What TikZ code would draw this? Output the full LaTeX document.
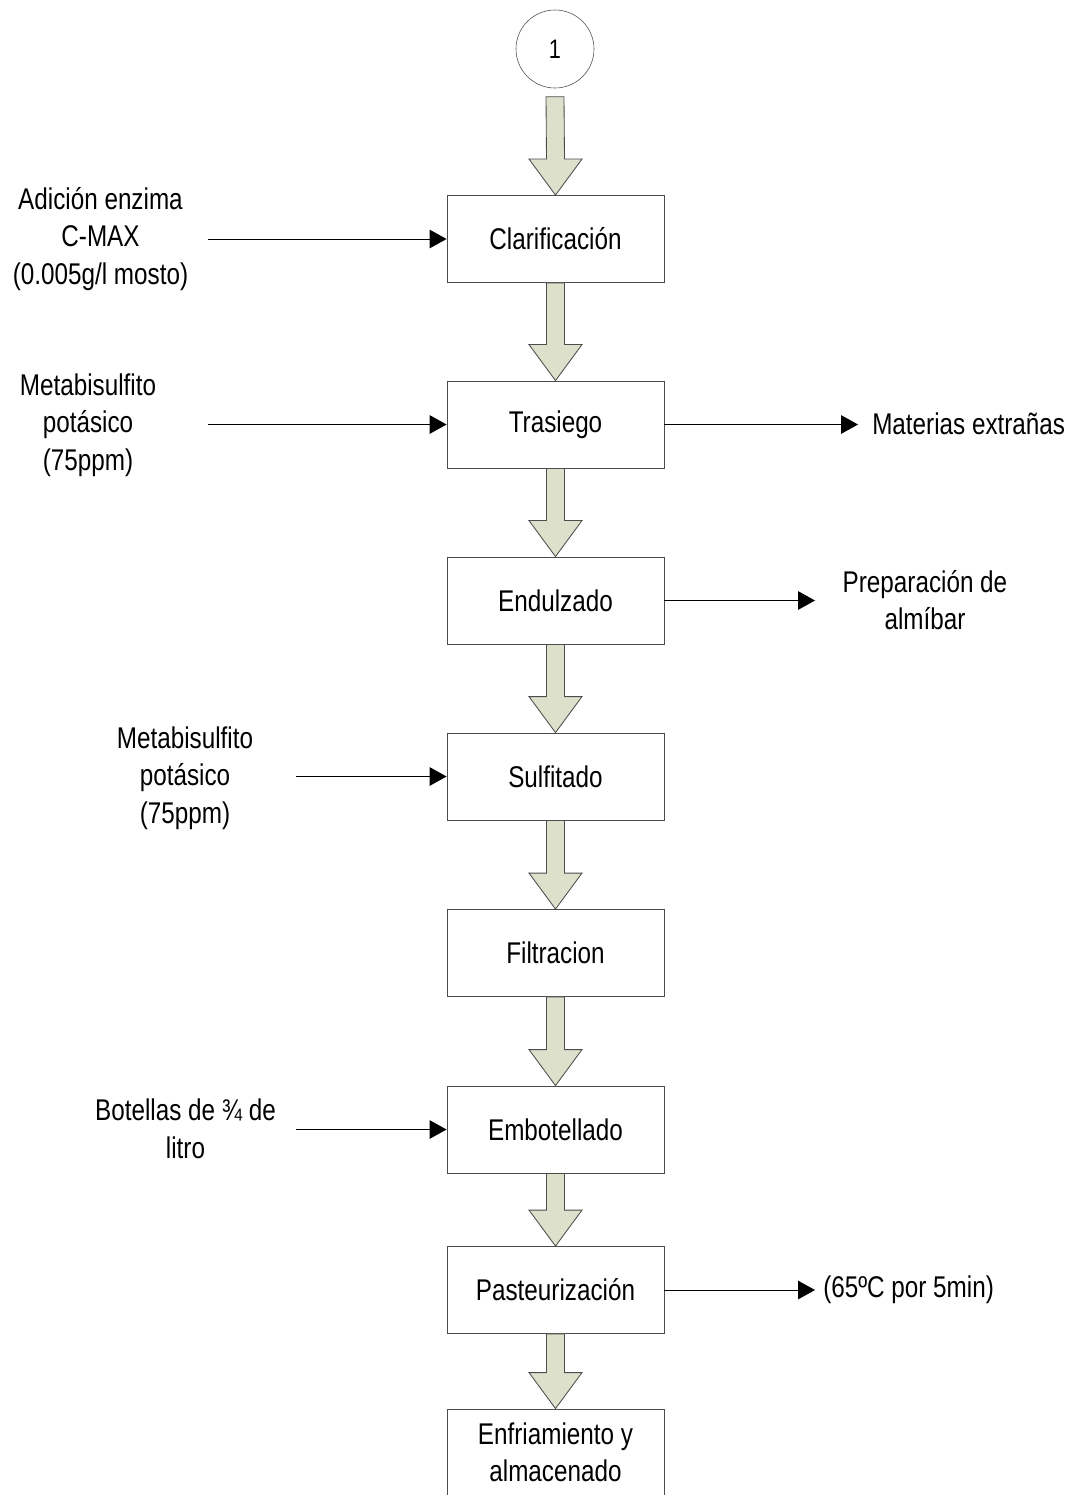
\documentclass[tikz,border=0pt]{standalone}
\usepackage{fontspec}
\setmainfont{Liberation Sans}[FakeStretch=0.81]
\usepackage{tikz}
\usetikzlibrary{arrows.meta,calc,positioning}
\definecolor{oliva}{RGB}{221,224,203}
\colorlet{borde}{black!70}
\newcommand\letra{\fontsize{21.3}{26.7}\selectfont}
% flecha gruesa entre dos etapas
\newcommand\bajar[2]{\filldraw[fill=oliva,draw=borde,line width=.6pt]
  ($(#1.south)+(-9,0)$) -- ($(#2.north)+(-9,-36)$) -- ($(#2.north)+(-26.5,-36)$) --
  (#2.north) -- ($(#2.north)+(26.5,-36)$) -- ($(#2.north)+(9,-36)$) --
  ($(#1.south)+(9,0)$) -- cycle;}

\begin{document}
\begin{tikzpicture}[x=0.025cm,y=-0.025cm]%
        \useasboundingbox (0,0) rectangle (1077,1495);%%
        \tikzstyle{linea}=[-{Triangle[length=0.42cm,width=0.46cm]},line width=.6pt] %%
        \node[circle,draw=borde,minimum size=1.95cm,inner sep=0pt,outer sep=0.22cm,font=\fontsize{19}{22}\selectfont] (uno) at (555,49) {1}; %%
        \begin{scope}[shape=rectangle]
        \tikzstyle{every node}=[draw=borde,line width=.6pt,minimum width=5.425cm,minimum height=2.175cm,align=center,font=\letra] %%
        \node (clar) at (555.5,239)  {Clarificación}; %%
        \node (tras) at (555.5,424.5)  {Trasiego}; %%
        \node (endu) at (555.5,600.5)  {Endulzado}; %%
        \node (sulf) at (555.5,776.5)  {Sulfitado}; %%
        \node (filt) at (555.5,953)  {Filtracion}; %%
        \node (embo) at (555.5,1129.5)  {Embotellado}; %%
        \node (past) at (555.5,1290)  {Pasteurización}; %%
        \node (enfr) at (555.5,1452.5)  {Enfriamiento y\\almacenado}; %%
        \end{scope}
        \begin{scope}
        \tikzstyle{every node}=[align=center,font=\letra,inner sep=0pt] %%
        \node (enzima) at (100.5,239)  {Adición enzima\\C-MAX\\(0.005g/l mosto)}; %%
        \node (meta1) at (88,425)  {Metabisulfito\\potásico\\(75ppm)}; %%
        \node (meta2) at (185,778)  {Metabisulfito\\potásico\\(75ppm)}; %%
        \node (botel) at (185.5,1129)  {Botellas de ¾ de\\litro}; %%
        \node[anchor=west] (mater) at (872,424)  {Materias extrañas}; %%
        \node (almib) at (925,600)  {Preparación de\\almíbar}; %%
        \node[anchor=west] (temp) at (823,1290)  {(65ºC por 5min)}; %%
        \end{scope}
        \coordinate (e1) at (208,239); %%
        \coordinate (e2) at (208,424.5); %%
        \coordinate (e3) at (296,776.5); %%
        \coordinate (e4) at (296,1129.5); %%
        \coordinate (s1) at (858,424.5); %%
        \coordinate (s2) at (815,600.5); %%
        \coordinate (s3) at (815,1290); %%
        \draw[linea] (e1)--(clar);  %%
        \draw[linea] (e2)--(tras);  %%
        \draw[linea] (e3)--(sulf);  %%
        \draw[linea] (e4)--(embo);  %%
        \draw[linea] (tras)--(s1);  %%
        \draw[linea] (endu)--(s2);  %%
        \draw[linea] (past)--(s3);  %%
        \bajar{uno}{clar} %%
        \bajar{clar}{tras} %%
        \bajar{tras}{endu} %%
        \bajar{endu}{sulf} %%
        \bajar{sulf}{filt} %%
        \bajar{filt}{embo} %%
        \bajar{embo}{past} %%
        \bajar{past}{enfr} %%
\end{tikzpicture}
\end{document}
